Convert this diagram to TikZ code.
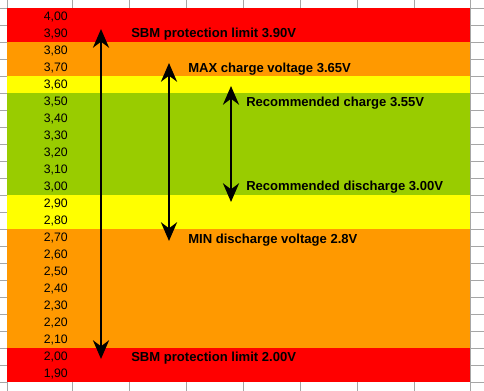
\documentclass[tikz,border=0pt]{standalone}
\usepackage{fontspec}
\setmainfont{Liberation Sans}
\usetikzlibrary{arrows.meta}
\definecolor{cellred}{HTML}{FF0000}
\definecolor{cellorange}{HTML}{FF9900}
\definecolor{cellyellow}{HTML}{FFFF00}
\definecolor{cellgreen}{HTML}{99CC00}
\definecolor{gridgray}{HTML}{A6A6A6}
\begin{document}
\begin{tikzpicture}[x=0.75pt, y=-0.75pt, >={Stealth[length=14pt,width=12pt,inset=4.5pt]},
	volt/.style={anchor=base east, inner sep=0pt, font=\fontsize{9.2}{11}\selectfont},
	limit/.style={anchor=base west, inner sep=0pt, font=\fontsize{9.8}{12}\selectfont\bfseries},
	span/.style={<->, line width=2pt}]
\useasboundingbox (0,0) rectangle (484,391);
\fill[cellred] (7,8) rectangle (470,42);
\fill[cellorange] (7,42) rectangle (470,76);
\fill[cellyellow] (7,76) rectangle (470,93);
\fill[cellgreen] (7,93) rectangle (470,195);
\fill[cellyellow] (7,195) rectangle (470,229);
\fill[cellorange] (7,229) rectangle (470,348);
\fill[cellred] (7,348) rectangle (470,382);
% sheet grid outside the cells
\foreach \k in {0,...,22} {
	\draw[gridgray] (0,8+17*\k) -- (7,8+17*\k);
	\draw[gridgray] (470,8+17*\k) -- (484,8+17*\k);
}
\foreach \x in {7,72,129,186,243,300,357,414} {
	\draw[gridgray] (\x,0) -- (\x,8);
	\draw[gridgray] (\x,382) -- (\x,391);
}
\draw[gridgray] (470,0) -- (470,391);
\foreach \a/\b [count=\i from 0] in {4/00,3/90,3/80,3/70,3/60,3/50,3/40,3/30,3/20,3/10,3/00,
		2/90,2/80,2/70,2/60,2/50,2/40,2/30,2/20,2/10,2/00,1/90}
	\node[volt] (v\i) at (68,20.8+17*\i) {\a,\b};
\node[limit] (sbmtop) at (131,37.8) {SBM protection limit 3.90V};
\node[limit] (maxchg) at (188,72.7) {MAX charge voltage 3.65V};
\node[limit] (recchg) at (246,106.7) {Recommended charge 3.55V};
\node[limit] (recdis) at (246,191) {Recommended discharge 3.00V};
\node[limit] (mindis) at (188,243.3) {MIN discharge voltage 2.8V};
\node[limit] (sbmbot) at (131,361.7) {SBM protection limit 2.00V};
\coordinate (sbmhi) at (101,29);
\coordinate (sbmlo) at (101,359);
\coordinate (maxhi) at (169,63);
\coordinate (minlo) at (169,241);
\coordinate (rechi) at (231,86);
\coordinate (reclo) at (231,202);
\draw[span] (sbmhi) -- (sbmlo);
\draw[span] (maxhi) -- (minlo);
\draw[span] (rechi) -- (reclo);
\end{tikzpicture}
\end{document}
